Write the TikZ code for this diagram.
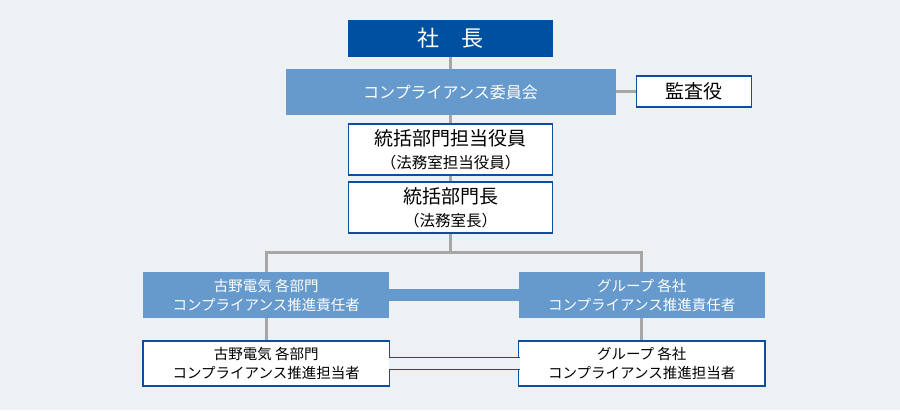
\documentclass[tikz,border=0pt]{standalone}
\usepackage{fontspec}
\usepackage{tikz}
\usetikzlibrary{matrix,backgrounds}
\newfontfamily\jpfont{Noto Sans CJK JP}
\definecolor{bgpaper}{HTML}{EEF1F4}
\definecolor{ceoblue}{HTML}{0050A2}
\definecolor{midblue}{HTML}{6699CC}
\definecolor{edgeblue}{HTML}{0B4EA2}
\definecolor{linegray}{HTML}{A6A6A6}
\tikzset{
  topbox/.style={fill=ceoblue, text=white, inner sep=0pt, minimum width=205pt, minimum height=37pt, font=\jpfont\fontsize{22}{26}\selectfont},
  cmtebox/.style={fill=midblue, text=white, inner sep=0pt, minimum width=330pt, minimum height=46pt, font=\jpfont\fontsize{16}{20}\selectfont},
  linebox/.style={draw=edgeblue, line width=1.5pt, fill=white, inner sep=0pt, align=center},
  respbox/.style={fill=midblue, text=white, inner sep=0pt, align=center, minimum width=246pt, minimum height=46pt, font=\jpfont\fontsize{14.5}{19}\selectfont},
  staffbox/.style={linebox, minimum width=246pt, minimum height=45pt, font=\jpfont\fontsize{14.5}{19}\selectfont},
  conn/.style={draw=linegray, line width=3pt},
  band/.style={draw=midblue, line width=12pt},
  twin/.style={draw=edgeblue, line width=1.5pt, double=bgpaper, double distance=10.5pt, shorten <=-1.5pt, shorten >=-1.5pt}
}

\begin{document}
\begin{tikzpicture}[x=1pt,y=-1pt]
  \node[topbox] (ceo) at (450.5,38.5) {社　長};
  \node[cmtebox] (cmte) at (450.5,92) {コンプライアンス委員会};
  \node[linebox, minimum width=115pt, minimum height=31pt, font=\jpfont\fontsize{19}{23}\selectfont] (audit) at (694,91.5) {監査役};
  \node[linebox, minimum width=204pt, minimum height=51pt, font=\jpfont\fontsize{19}{23}\selectfont] (exec) at (450.5,149.5)
    {統括部門担当役員\\{\fontsize{15.5}{23}\selectfont （法務室担当役員）}};
  \node[linebox, minimum width=204pt, minimum height=51pt, font=\jpfont\fontsize{19}{23}\selectfont] (head) at (450.5,207.5)
    {統括部門長\\{\fontsize{15.5}{23}\selectfont （法務室長）}};
  \coordinate (split) at (450.5,252.5);

  \matrix (m) [row sep=22pt, column sep=128pt, inner sep=0pt] at (454,329.5)
  {
    \node[respbox] (lresp) {古野電気 各部門\\コンプライアンス推進責任者}; &
    \node[respbox] (gresp) {グループ 各社\\コンプライアンス推進責任者}; \\
    \node[staffbox] (lstaff) {古野電気 各部門\\コンプライアンス推進担当者}; &
    \node[staffbox] (gstaff) {グループ 各社\\コンプライアンス推進担当者}; \\
  };

  \begin{scope}[on background layer]
    \fill[bgpaper] (0,0) rectangle (900,410);
    \draw[conn] (ceo) -- (split);
    \draw[conn] (lresp) |- (split) -| (gresp);
    \path[conn] (lresp) edge (lstaff)
                (gresp) edge (gstaff)
                (cmte.east |- audit) edge (audit);
  \end{scope}

  \draw[band] (lresp) -- (gresp);
  \draw[twin] (lstaff) -- (gstaff);
\end{tikzpicture}
\end{document}
